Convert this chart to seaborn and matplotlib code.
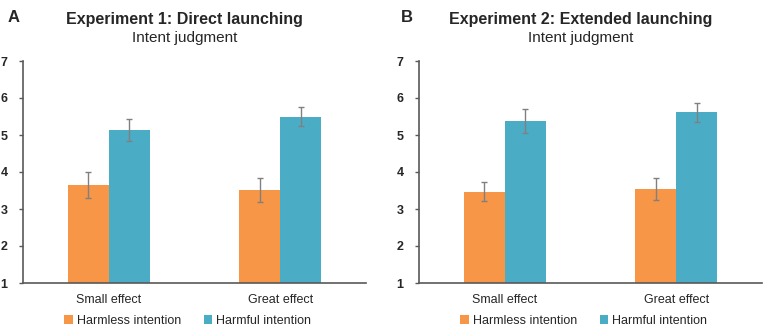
import matplotlib
matplotlib.use("Agg")
import matplotlib.pyplot as plt
import seaborn as sns
import pandas as pd
import numpy as np
from matplotlib.patches import Patch

sns.set_style("white")
plt.rcParams['font.family'] = ['Liberation Sans', 'DejaVu Sans']

categories = ["Small effect", "Great effect"]
series = ["Harmless intention", "Harmful intention"]
colors = ["#F79646", "#4BACC6"]

# Experiment 1
exp1_harmless = [3.65, 3.51]
exp1_harmful = [5.14, 5.50]
exp1_harmless_err = [0.34, 0.33]
exp1_harmful_err = [0.29, 0.27]

# Experiment 2
exp2_harmless = [3.47, 3.54]
exp2_harmful = [5.38, 5.61]
exp2_harmless_err = [0.25, 0.31]
exp2_harmful_err = [0.32, 0.25]

titles = ["Experiment 1: Direct launching", "Experiment 2: Extended launching"]
subtitle = "Intent judgment"
panel_labels = ["A", "B"]
yticks = [1, 2, 3, 4, 5, 6, 7]

fig = plt.figure(figsize=(7.65, 3.3), dpi=100)
axA = fig.add_axes([23/765, 1-283/330, (366-23)/765, (283-61)/330])
axB = fig.add_axes([419/765, 1-283/330, (762-419)/765, (283-61)/330])

panels = [
    (axA, exp1_harmless, exp1_harmful, exp1_harmless_err, exp1_harmful_err),
    (axB, exp2_harmless, exp2_harmful, exp2_harmless_err, exp2_harmful_err),
]

axis_color = "#595959"
for i, (ax, hl, hf, hle, hfe) in enumerate(panels):
    df = pd.DataFrame({
        "cat": categories * 2,
        "series": [series[0]] * 2 + [series[1]] * 2,
        "val": hl + hf,
    })
    errs = hle + hfe
    sns.barplot(data=df, x="cat", y="val", hue="series", order=categories,
                hue_order=series, palette=colors, width=0.48, errorbar=None,
                ax=ax, legend=False, saturation=1, linewidth=0)
    patches = [p for p in ax.patches if p.get_height() > 0]
    for p, (v, e) in zip(patches, zip(df["val"], errs)):
        x = p.get_x() + p.get_width() / 2
        ax.errorbar(x, v, yerr=e, color="#808080", capsize=2.5, elinewidth=1.0,
                    capthick=1.0, fmt="none", zorder=5)
    ax.set_ylim(1, 7)
    ax.set_yticks(yticks)
    ax.set_yticklabels([str(t) for t in yticks], fontweight="bold", fontsize=9)
    ax.set_xlim(-0.5, 1.5)
    ax.set_xlabel("")
    ax.set_ylabel("")
    ax.tick_params(axis="x", length=0, labelsize=9, pad=8)
    ax.tick_params(axis="y", length=3, width=1, color=axis_color, pad=8, direction="out")
    ax.tick_params(axis="y", left=True)
    for s in ["top", "right"]:
        ax.spines[s].set_visible(False)
    for s in ["left", "bottom"]:
        ax.spines[s].set_color(axis_color)
        ax.spines[s].set_linewidth(1.2)
    ax.text(0.47, 1.185, titles[i], transform=ax.transAxes, ha="center", va="center",
            fontsize=11.5, fontweight="bold")
    ax.text(0.47, 1.104, subtitle, transform=ax.transAxes, ha="center", va="center",
            fontsize=11)
    handles = [Patch(facecolor=c, edgecolor="none") for c in colors]
    ax.legend(handles, series, loc="center", bbox_to_anchor=(0.48, -0.172),
              ncol=2, frameon=False, fontsize=9, handlelength=0.7, handleheight=0.7,
              handletextpad=0.3, columnspacing=1.8, borderpad=0)

fig.text(8/765, 1-18/330, "A", fontsize=12, fontweight="bold", va="center", ha="left")
fig.text(401/765, 1-18/330, "B", fontsize=12, fontweight="bold", va="center", ha="left")

fig.savefig("out.png", dpi=100)
